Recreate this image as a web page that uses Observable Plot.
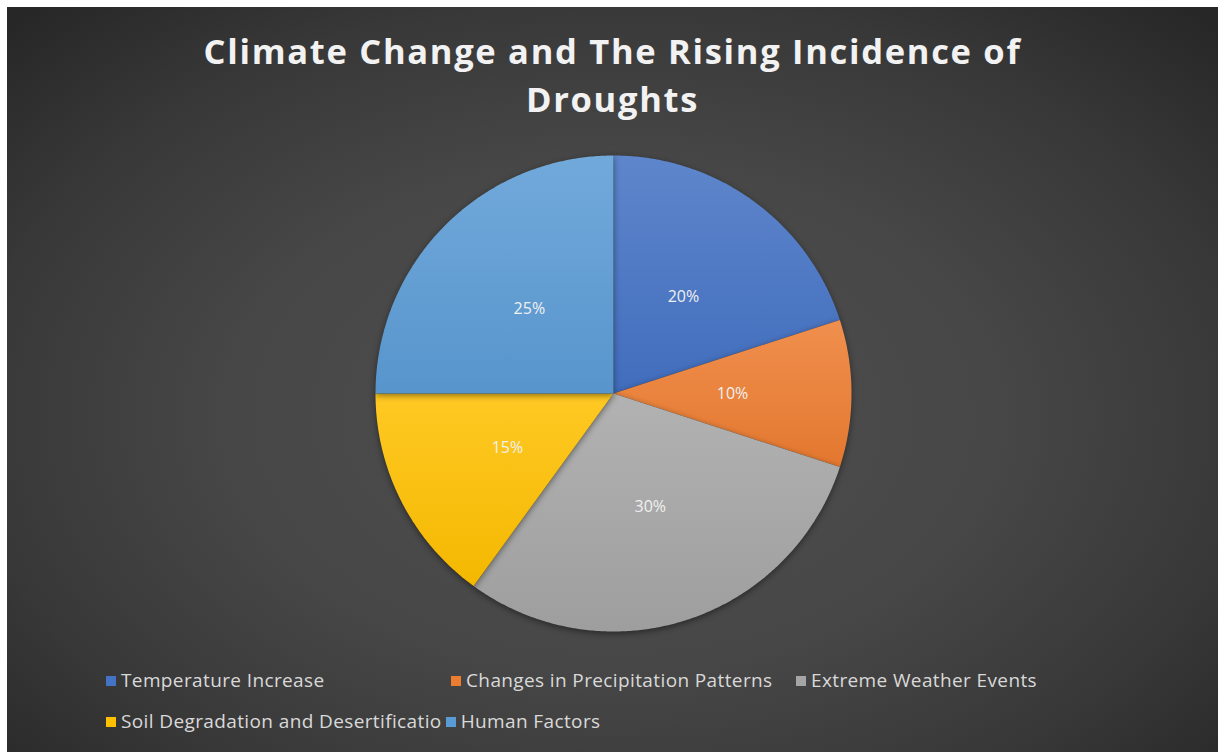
<!DOCTYPE html>
<html>
<head>
<meta charset="utf-8">
<script src="https://cdn.jsdelivr.net/npm/d3@7"></script>
<script src="https://cdn.jsdelivr.net/npm/@observablehq/plot@0.6"></script>
<style>
  html, body { margin: 0; padding: 0; background: #ffffff; }
  #frame {
    position: relative; width: 1218px; height: 752px; overflow: hidden; background: #ffffff;
  }
  #chart {
    position: absolute; left: 7px; top: 7px; width: 1211px; height: 745px;
    background: radial-gradient(ellipse 70% 75% at 50% 55%, #4f4f4f 0%, #474747 45%, #383838 75%, #272727 100%);
    font-family: "Open Sans", sans-serif;
  }
  #title {
    position: absolute; left: 0; top: 20px; width: 1211px; text-align: center;
    color: #f2f2f2; font-weight: 700; font-size: 34.5px; line-height: 48px; letter-spacing: 1.7px;
  }
  #plot { position: absolute; left: -7px; top: 138px; }
  #legend { position: absolute; left: 99px; top: 652px; color: #d9d9d9; font-size: 19px; letter-spacing: 0.38px; }
  .row { display: flex; height: 41px; align-items: center; white-space: nowrap; }
  .item { display: flex; align-items: center; }
  .row1 .item { width: 345px; }
  .row2 .item { margin-right: 4px; }
  .sw { width: 10px; height: 10px; margin-right: 5px; margin-top: 3px; }
</style>
</head>
<body>
<div id="frame">
  <div id="chart">
    <div id="title">Climate Change and The Rising Incidence of<br>Droughts</div>
    <div id="plot"></div>
    <div id="legend"></div>
  </div>
</div>
<script>
const categories = ["Temperature Increase", "Changes in Precipitation Patterns", "Extreme Weather Events", "Soil Degradation and Desertification", "Human Factors"];
const legendLabels = ["Temperature Increase", "Changes in Precipitation Patterns", "Extreme Weather Events", "Soil Degradation and Desertificatio", "Human Factors"];
const values = [20, 10, 30, 15, 25];
const colors = ["#4472C4", "#ED7D31", "#A5A5A5", "#FFC000", "#5B9BD5"];
const legendRows = [[0, 1, 2], [3, 4]];

// Build slice polygons from the values (angles from 12 o'clock, clockwise)
const total = d3.sum(values);
let acc = 0;
const slices = values.map((v, i) => {
  const a0 = acc / total * 2 * Math.PI;
  acc += v;
  const a1 = acc / total * 2 * Math.PI;
  const n = Math.max(8, Math.ceil((a1 - a0) / (Math.PI / 360)));
  const pts = [{x: 0, y: 0}];
  for (let k = 0; k <= n; k++) {
    const a = a0 + (a1 - a0) * k / n;
    pts.push({x: Math.sin(a), y: Math.cos(a)});
  }
  pts.push({x: 0, y: 0});
  const am = (a0 + a1) / 2;
  return {i, cat: categories[i], pts, label: {x: 0.5 * Math.sin(am), y: 0.5 * Math.cos(am), text: v + "%"}};
});

const R = 238, CX = 613, CY = 248;
const plot = Plot.plot({
  width: 1218,
  height: 505,
  margin: 0,
  x: {domain: [-1, 1], range: [CX - R, CX + R], axis: null},
  y: {domain: [-1, 1], range: [CY + R, CY - R], axis: null},
  style: {background: "transparent", overflow: "visible"},
  marks: [
    ...slices.map(s => Plot.line(s.pts, {x: "x", y: "y", fill: `url(#grad${s.i})`, stroke: "none", curve: "linear"})),
    Plot.text(slices.map(s => s.label), {x: "x", y: "y", text: "text", fill: "#f0f0f0", fontSize: 16, fontFamily: "Open Sans"})
  ]
});
document.getElementById("plot").appendChild(plot);

// gradients for Excel-like shading
const svg = d3.select(plot);
const defs = svg.insert("defs", ":first-child");
colors.forEach((c, i) => {
  const g = defs.append("linearGradient").attr("id", `grad${i}`).attr("x1", 0).attr("y1", 0).attr("x2", 0).attr("y2", 1);
  g.append("stop").attr("offset", "0%").attr("stop-color", d3.interpolateRgb(c, "#ffffff")(0.14));
  g.append("stop").attr("offset", "100%").attr("stop-color", d3.color(c).darker(0.12).formatHex());
});
svg.selectAll("g[aria-label=line]").style("filter", "drop-shadow(0px 2px 3px rgba(0,0,0,0.45))");

// legend
const legend = d3.select("#legend");
legendRows.forEach((row, r) => {
  const div = legend.append("div").attr("class", `row row${r + 1}`);
  row.forEach(i => {
    const it = div.append("div").attr("class", "item");
    it.append("div").attr("class", "sw").style("background", colors[i]);
    it.append("span").text(legendLabels[i]);
  });
});
</script>
</body>
</html>
